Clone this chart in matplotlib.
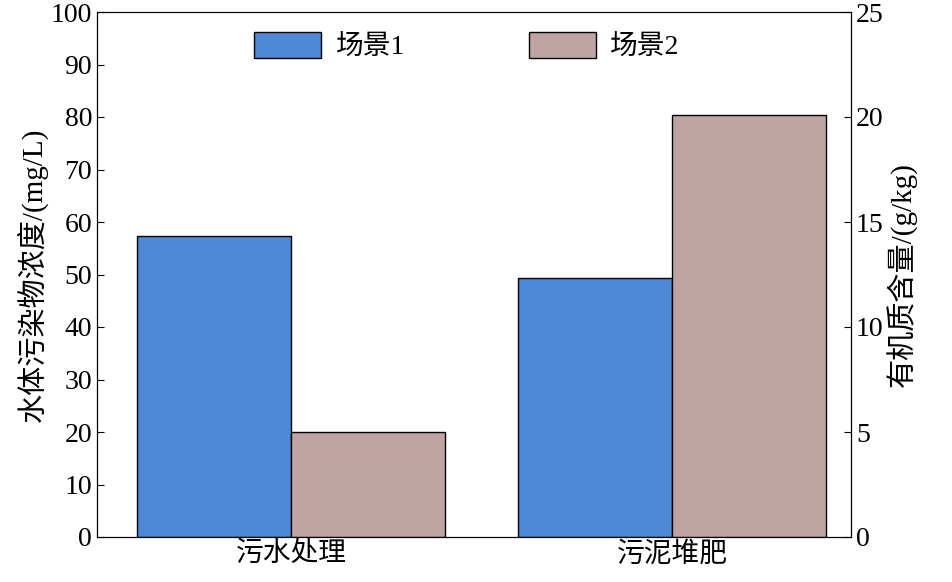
import matplotlib
matplotlib.use("Agg")
import matplotlib.pyplot as plt

plt.rcParams['font.family'] = ['Liberation Serif', 'Noto Sans CJK SC']
plt.rcParams['font.size'] = 16

categories = ['污水处理', '污泥堆肥']
scene1 = [57.3, 49.3]      # mg/L, left axis
scene2 = [5.0, 20.1]       # g/kg, right axis
series_names = ['场景1', '场景2']

fig = plt.figure(figsize=(9.52, 5.82), dpi=100)
ax = fig.add_axes([97/952, 45/582, 754/952, 525/582])
ax2 = ax.twinx()
w = 0.404
x = [0, 1]
b1 = ax.bar([i - w/2 for i in x], scene1, w, color='#4f88d4', edgecolor='black', linewidth=1, label=series_names[0])
b2 = ax2.bar([i + w/2 for i in x], scene2, w, color='#c0a3a3', edgecolor='black', linewidth=1, label=series_names[1])
ax.set_xlim(-0.51, 1.47)
ax.set_ylim(0, 100)
ax2.set_ylim(0, 25)
ax.set_yticks(range(0, 101, 10))
ax2.set_yticks(range(0, 26, 5))
ax.set_xticks(x)
ax.set_xticklabels(categories, fontsize=20)
ax.tick_params(axis='both', direction='in', labelsize=20, length=5)
ax2.tick_params(axis='y', direction='in', labelsize=20, length=5)
ax.tick_params(axis='x', length=0)
ax.set_ylabel('水体污染物浓度/(mg/L)', fontsize=21, labelpad=2)
ax2.set_ylabel('有机质含量/(g/kg)', fontsize=21, labelpad=2)
ax.legend([b1, b2], series_names, loc='upper center', ncol=2, frameon=False,
          fontsize=20, handlelength=2.4, handleheight=1.1, columnspacing=4.5,
          handletextpad=0.5, bbox_to_anchor=(0.49, 1.01))
fig.savefig('out.png', dpi=100)
